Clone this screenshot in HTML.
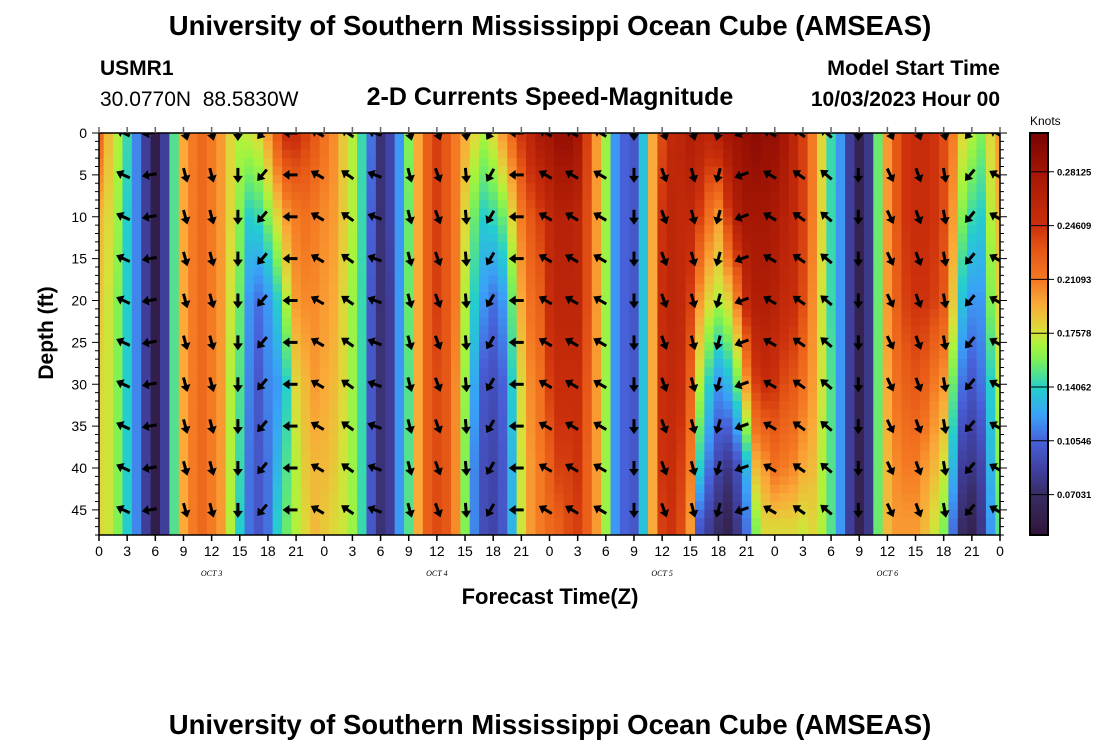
<!DOCTYPE html>
<html><head><meta charset="utf-8"><style>
body{margin:0;background:#fff;width:1100px;height:750px;overflow:hidden;font-family:"Liberation Sans",sans-serif}
svg{display:block}
</style></head><body>
<svg id="chart" width="1100" height="750" viewBox="0 0 1100 750" xmlns="http://www.w3.org/2000/svg">
<text x="550" y="35" text-anchor="middle" font-size="27.5" font-weight="bold">University of Southern Mississippi Ocean Cube (AMSEAS)</text>
<text x="100" y="75" font-size="21" font-weight="bold">USMR1</text>
<text x="100" y="106" font-size="21" style="white-space:pre">30.0770N  88.5830W</text>
<text x="550" y="105" text-anchor="middle" font-size="25" font-weight="bold">2-D Currents Speed-Magnitude</text>
<text x="1000" y="75" text-anchor="end" font-size="21.5" font-weight="bold">Model Start Time</text>
<text x="1000" y="106" text-anchor="end" font-size="21" font-weight="bold">10/03/2023 Hour 00</text>
<defs><clipPath id="plotclip"><rect x="99" y="133" width="901" height="402"/></clipPath></defs>
<g id="heat" clip-path="url(#plotclip)"></g>
<g id="arrows" clip-path="url(#plotclip)"></g>
<g id="axes"></g>
<text x="550" y="604" text-anchor="middle" font-size="22" font-weight="bold">Forecast Time(Z)</text>
<text x="0" y="0" transform="translate(53,333) rotate(-90)" text-anchor="middle" font-size="21" font-weight="bold">Depth (ft)</text>
<text x="1030" y="125" font-size="12">Knots</text>
<g id="cbar"></g>
<text x="550" y="734" text-anchor="middle" font-size="27.5" font-weight="bold">University of Southern Mississippi Ocean Cube (AMSEAS)</text>
</svg>
<script>
// depth levels (ft) of the speed samples
const depthLevels = [0, 10, 20, 30, 40, 47];
// speed (knots) per forecast hour 0..96, one entry per depth level
const speedByHour = [
[.22,.19,.185,.18,.18,.18],[.19,.18,.175,.175,.175,.175],[.17,.165,.16,.16,.16,.16],[.145,.14,.14,.14,.14,.14],
[.115,.115,.115,.115,.115,.115],[.085,.085,.085,.085,.085,.085],[.055,.055,.055,.055,.055,.055],[.085,.085,.085,.085,.085,.085],
[.15,.15,.15,.15,.15,.15],[.195,.195,.195,.195,.195,.195],[.21,.21,.21,.21,.21,.21],[.22,.22,.22,.22,.22,.22],
[.21,.21,.21,.21,.21,.21],[.2,.2,.2,.2,.2,.2],[.18,.18,.175,.17,.17,.17],[.17,.16,.155,.15,.145,.14],
[.175,.14,.12,.115,.11,.11],[.18,.145,.11,.1,.1,.1],[.2,.16,.12,.115,.11,.11],[.23,.18,.14,.12,.13,.14],
[.25,.2,.17,.14,.15,.155],[.25,.21,.2,.18,.17,.17],[.24,.215,.205,.19,.185,.18],[.23,.21,.205,.2,.19,.19],
[.215,.205,.2,.195,.19,.185],[.205,.2,.195,.19,.185,.18],[.185,.185,.18,.18,.175,.175],[.17,.17,.165,.165,.165,.165],
[.145,.145,.145,.145,.145,.145],[.11,.105,.1,.1,.1,.1],[.075,.075,.075,.075,.075,.075],[.09,.09,.085,.085,.085,.085],
[.12,.12,.12,.12,.12,.12],[.16,.155,.155,.15,.15,.15],[.195,.195,.195,.195,.195,.195],[.225,.225,.225,.225,.225,.225],
[.24,.24,.24,.235,.235,.235],[.23,.23,.23,.23,.23,.23],[.21,.21,.21,.205,.205,.205],[.195,.18,.17,.165,.16,.16],
[.18,.155,.14,.125,.115,.115],[.17,.14,.12,.1,.095,.095],[.18,.145,.11,.095,.09,.09],[.2,.155,.12,.105,.1,.1],
[.22,.18,.155,.14,.13,.13],[.245,.21,.195,.18,.175,.175],[.26,.23,.215,.205,.2,.2],[.275,.24,.225,.215,.21,.21],
[.28,.255,.25,.24,.225,.22],[.29,.265,.26,.25,.24,.225],[.29,.265,.26,.25,.24,.235],[.28,.26,.26,.25,.245,.24],
[.24,.235,.235,.23,.225,.225],[.2,.2,.2,.2,.2,.2],[.165,.165,.165,.165,.165,.165],[.12,.12,.12,.12,.12,.12],
[.105,.105,.105,.105,.105,.105],[.1,.1,.1,.1,.1,.1],[.135,.135,.135,.135,.135,.135],[.195,.195,.195,.195,.195,.195],
[.235,.245,.25,.25,.245,.24],[.255,.26,.26,.255,.25,.245],[.26,.255,.255,.25,.24,.235],[.27,.255,.24,.225,.21,.2],
[.265,.24,.2,.17,.14,.1],[.26,.215,.18,.14,.11,.085],[.27,.2,.17,.12,.09,.07],[.28,.24,.18,.13,.08,.06],
[.285,.27,.21,.155,.095,.08],[.29,.28,.255,.2,.13,.11],[.295,.28,.27,.24,.19,.16],[.29,.28,.27,.25,.2,.18],
[.29,.275,.265,.245,.215,.18],[.28,.265,.255,.235,.21,.18],[.26,.255,.25,.23,.205,.18],[.24,.24,.235,.215,.195,.175],
[.21,.21,.205,.2,.19,.18],[.18,.18,.175,.175,.17,.17],[.145,.145,.145,.15,.15,.15],[.12,.12,.12,.12,.12,.12],
[.085,.085,.085,.085,.085,.085],[.06,.06,.06,.06,.06,.06],[.08,.08,.08,.08,.08,.08],[.155,.155,.155,.155,.155,.155],
[.2,.2,.2,.195,.19,.19],[.23,.23,.225,.215,.205,.2],[.245,.245,.24,.225,.21,.2],[.25,.25,.245,.23,.21,.2],
[.25,.25,.245,.225,.2,.19],[.245,.245,.24,.21,.19,.175],[.235,.235,.23,.2,.175,.16],[.21,.2,.185,.155,.13,.11],
[.18,.16,.135,.11,.085,.07],[.17,.145,.12,.1,.08,.06],[.16,.14,.12,.11,.09,.08],[.18,.17,.16,.14,.13,.12],
[.2,.19,.18,.17,.16,.15]
];
// arrow positions (forecast hour) and flow direction (degrees clockwise from north)
const arrowHours = [2.6,5.4,9.2,12,14.8,17.4,20.4,23.3,26.5,29.4,33.1,36.1,39.1,41.7,44.5,47.6,50.4,53.4,57,60.2,63.3,66,68.5,71.5,74.6,77.5,80.9,84.3,87.3,90.1,92.8,95.6];
const arrowDirs = [295,260,165,165,180,220,270,300,305,290,165,160,175,210,270,300,300,300,180,160,165,195,250,300,305,310,180,155,160,170,220,300];
const arrowDepths = [0,5,10,15,20,25,30,35,40,45];
const yTickLabels = [0,5,10,15,20,25,30,35,40,45];
const xTickLabels = [0,3,6,9,12,15,18,21,0,3,6,9,12,15,18,21,0,3,6,9,12,15,18,21,0,3,6,9,12,15,18,21,0];
const dayLabels = ["OCT 3","OCT 4","OCT 5","OCT 6"];
const dayHours = [12,36,60,84];
const cbarTicks = [0.28125,0.24609,0.21093,0.17578,0.14062,0.10546,0.07031];
const vMin = 0.0439, vMax = 0.3066;

const NS="http://www.w3.org/2000/svg";
const X0=99,X1=1000,Y0=133,Y1=535,HMAX=96,DMAX=48;
const xs=h=>X0+h*(X1-X0)/HMAX;
const ys=d=>Y0+d*(Y1-Y0)/DMAX;
const cmapStops=[[0.044,[48,20,56]],[0.07,[56,44,100]],[0.087,[64,64,160]],[0.105,[72,96,216]],[0.122,[58,160,248]],[0.14,[36,206,206]],[0.158,[120,240,90]],[0.168,[168,244,60]],[0.177,[216,224,58]],[0.195,[250,170,56]],[0.211,[244,120,34]],[0.23,[230,88,22]],[0.246,[204,48,12]],[0.281,[164,22,4]],[0.307,[120,4,3]]];
function turbo(v){v=Math.max(cmapStops[0][0],Math.min(cmapStops[cmapStops.length-1][0],v));
 for(let i=1;i<cmapStops.length;i++){if(v<=cmapStops[i][0]){const a=cmapStops[i-1],b=cmapStops[i];const f=(v-a[0])/(b[0]-a[0]);
  const c=a[1].map((x,k)=>Math.round(x+(b[1][k]-x)*f));return `rgb(${c[0]},${c[1]},${c[2]})`;}}
 return 'rgb(120,4,3)';}
function el(tag,attrs,parent){const e=document.createElementNS(NS,tag);for(const k in attrs)e.setAttribute(k,attrs[k]);parent.appendChild(e);return e;}
function speedAt(row,d){if(d<=depthLevels[0])return row[0];
 for(let i=1;i<depthLevels.length;i++){if(d<=depthLevels[i]){const f=(d-depthLevels[i-1])/(depthLevels[i]-depthLevels[i-1]);return row[i-1]+(row[i]-row[i-1])*f;}}
 return row[row.length-1];}
const heat=document.getElementById('heat');
speedByHour.forEach((row,h)=>{
 const xa=xs(h-0.5),xb=xs(h+0.5);
 for(let d=0;d<DMAX;d++){
  const r=el('rect',{x:xa.toFixed(2),y:ys(d).toFixed(2),width:(xb-xa+0.6).toFixed(2),height:(ys(d+1)-ys(d)+0.6).toFixed(2),fill:turbo(speedAt(row,d+0.5))},heat);
  
  
 }
});
const arrows=document.getElementById('arrows');
arrowHours.forEach((h,i)=>{
 arrowDepths.forEach(d=>{
  const cx=xs(h),cy=ys(d);
  const g=el('g',{transform:`translate(${cx.toFixed(1)},${cy.toFixed(1)}) rotate(${arrowDirs[i]})`},arrows);
  
  
  el('line',{x1:0,y1:7,x2:0,y2:-2,stroke:'#000','stroke-width':3},g);
  el('path',{d:'M0,-8 L-5,-1 L5,-1 Z',fill:'#000'},g);
 });
});
const axes=document.getElementById('axes');
el('rect',{x:X0,y:Y0,width:X1-X0,height:Y1-Y0,fill:'none',stroke:'#000','stroke-width':1.5},axes);
for(let d=0;d<=DMAX;d++){const y=ys(d);const L=d%5===0?7:4;
 el('line',{x1:X0-L,y1:y,x2:X0,y2:y,stroke:'#000','stroke-width':1},axes);
 el('line',{x1:X1,y1:y,x2:X1+L,y2:y,stroke:'#000','stroke-width':1},axes);}
yTickLabels.forEach(v=>{const t=el('text',{x:X0-12,y:ys(v)+5,'text-anchor':'end','font-size':14},axes);t.textContent=v;
 
 });
xTickLabels.forEach((v,i)=>{const x=xs(i*3);
 el('line',{x1:x,y1:Y0-6,x2:x,y2:Y0,stroke:'#666','stroke-width':1.5},axes);
 el('line',{x1:x,y1:Y1,x2:x,y2:Y1+6,stroke:'#000','stroke-width':1.5},axes);
 const t=el('text',{x:x,y:Y1+21,'text-anchor':'middle','font-size':14},axes);t.textContent=v;
 
 });
dayLabels.forEach((s,i)=>{const t=el('text',{x:xs(dayHours[i]),y:Y1+41,'text-anchor':'middle','font-size':8,'font-style':'italic','font-family':'Liberation Serif, serif'},axes);t.textContent=s;
 
 });
const cbar=document.getElementById('cbar');
const CX=1030,CW=18;const cy=v=>Y1-(v-vMin)/(vMax-vMin)*(Y1-Y0);
for(let i=0;i<200;i++){const v0=vMin+(vMax-vMin)*i/200,v1=vMin+(vMax-vMin)*(i+1)/200;
 el('rect',{x:CX,y:cy(v1),width:CW,height:cy(v0)-cy(v1)+0.5,fill:turbo((v0+v1)/2)},cbar);}
el('rect',{x:CX,y:Y0,width:CW,height:Y1-Y0,fill:'none',stroke:'#000','stroke-width':2},cbar);
cbarTicks.forEach(v=>{const y=cy(v);
 el('line',{x1:CX,y1:y,x2:CX+CW+6,y2:y,stroke:'#000','stroke-width':1},cbar);
 const t=el('text',{x:CX+CW+9,y:y+3.5,'font-size':9.5,'font-weight':'bold'},cbar);t.textContent=v.toFixed(5);
 
 });
</script>
</body></html>
